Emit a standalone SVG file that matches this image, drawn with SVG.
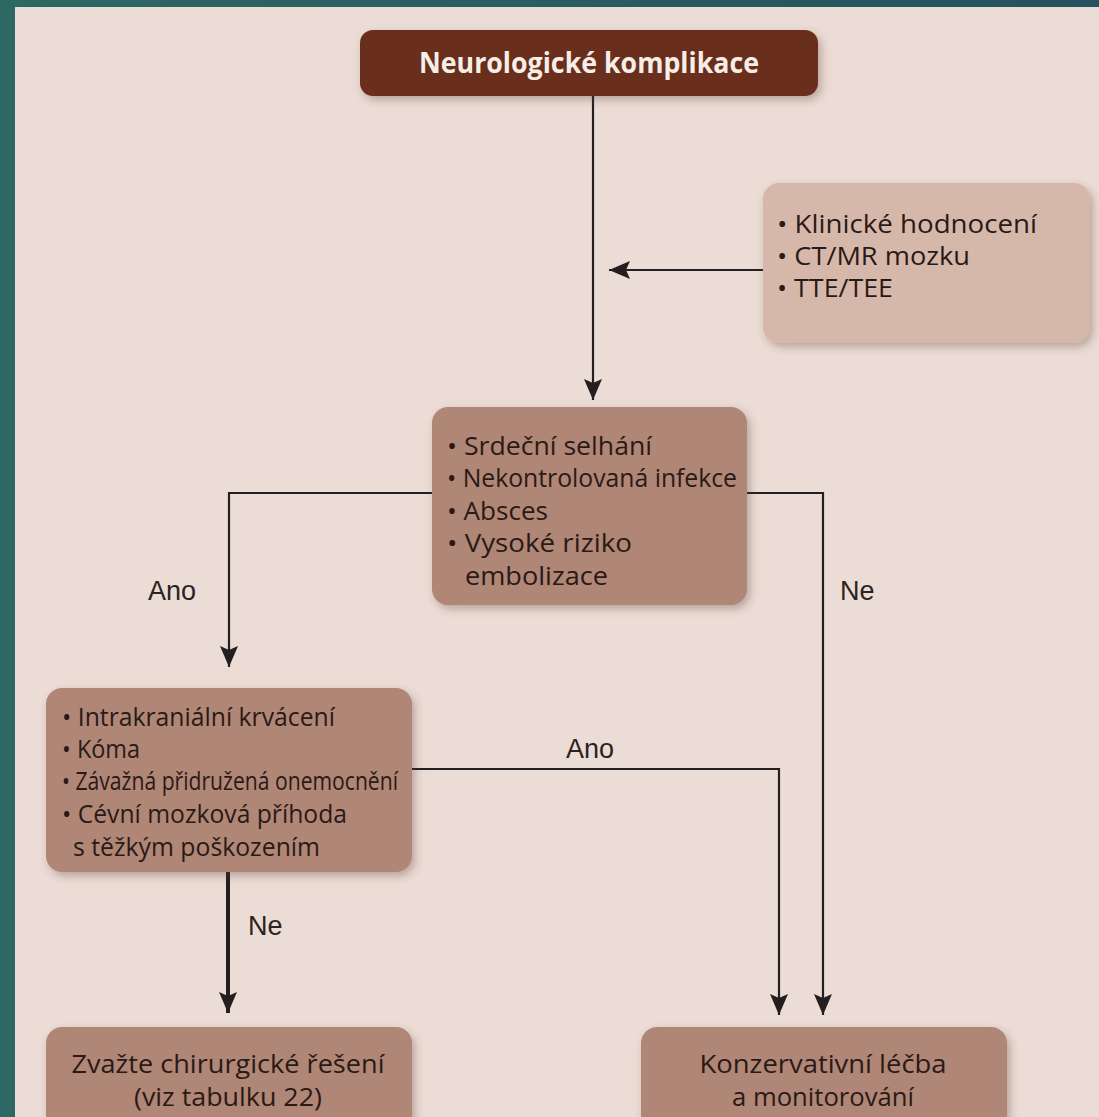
<svg xmlns="http://www.w3.org/2000/svg" width="1099" height="1117" viewBox="0 0 1099 1117">
<defs>
<linearGradient id="teal" x1="0" y1="0" x2="1" y2="0">
<stop offset="0" stop-color="#2d6864"/>
<stop offset="1" stop-color="#24525e"/>
</linearGradient>
<filter id="sh" x="-10%" y="-10%" width="125%" height="130%">
<feDropShadow dx="3" dy="4" stdDeviation="4" flood-color="#5a3a30" flood-opacity="0.35"/>
</filter>
<marker id="ah" viewBox="-22 -10 24 20" refX="0" refY="0" markerWidth="24" markerHeight="20" markerUnits="userSpaceOnUse" orient="auto">
<path d="M0,0 L-21,-9 L-17,0 L-21,9 Z" fill="#231f20"/>
</marker>
</defs>
<style>
.bx{filter:url(#sh);}
.t{font-family:"Open Sans","Noto Sans","DejaVu Sans",sans-serif;font-size:25px;fill:#2a1a15;}
.c{font-family:"Open Sans","Noto Sans","DejaVu Sans",sans-serif;font-size:25px;fill:#2a1a15;text-anchor:middle;}
.lb{font-family:"Liberation Sans",Arial,sans-serif;font-size:27px;fill:#2b2322;}
.ln{fill:none;stroke:#231f20;stroke-width:2.2;}
</style>
<rect x="0" y="0" width="1099" height="1117" fill="url(#teal)"/>
<rect x="15" y="7" width="1084" height="1110" fill="#ebdcd5"/>

<g id="connectors">
<path class="ln" d="M593,96 V400" marker-end="url(#ah)"/>
<path class="ln" d="M763,270 H609" marker-end="url(#ah)"/>
<path class="ln" d="M432,493 H229 V667" marker-end="url(#ah)"/>
<path class="ln" d="M747,493 H823 V1015" marker-end="url(#ah)"/>
<path class="ln" d="M412,769 H779 V1015" marker-end="url(#ah)"/>
<path class="ln" d="M228,872 V1013" style="stroke-width:4" marker-end="url(#ah)"/>
<text class="lb" x="148" y="600">Ano</text>
<text class="lb" x="840" y="600">Ne</text>
<text class="lb" x="566" y="758">Ano</text>
<text class="lb" x="248" y="935">Ne</text>
</g>

<g id="n1">
<rect class="bx" x="360" y="30" width="458" height="66" rx="13" fill="#6a2d1b"/>
<text x="589" y="73" text-anchor="middle" font-family="'Open Sans','Noto Sans',sans-serif" font-weight="bold" font-size="29" fill="#f7eee8" textLength="340" lengthAdjust="spacingAndGlyphs">Neurologické komplikace</text>
</g>

<g id="n2">
<rect class="bx" x="763" y="183" width="327" height="160" rx="16" fill="#d6b8ab"/>
<text class="t" x="777" y="233" textLength="260" lengthAdjust="spacingAndGlyphs">• Klinické hodnocení</text>
<text class="t" x="777" y="265" textLength="193" lengthAdjust="spacingAndGlyphs">• CT/MR mozku</text>
<text class="t" x="777" y="297" textLength="116" lengthAdjust="spacingAndGlyphs">• TTE/TEE</text>
</g>

<g id="n3">
<rect class="bx" x="432" y="407" width="315" height="198" rx="16" fill="#b08677"/>
<text class="t" x="447" y="455" textLength="205" lengthAdjust="spacingAndGlyphs">• Srdeční selhání</text>
<text class="t" x="447" y="487" textLength="290" lengthAdjust="spacingAndGlyphs">• Nekontrolovaná infekce</text>
<text class="t" x="447" y="520" textLength="101" lengthAdjust="spacingAndGlyphs">• Absces</text>
<text class="t" x="447" y="552" textLength="185" lengthAdjust="spacingAndGlyphs">• Vysoké riziko</text>
<text class="t" x="465" y="585" textLength="143" lengthAdjust="spacingAndGlyphs">embolizace</text>
</g>

<g id="n4">
<rect class="bx" x="46" y="688" width="366" height="184" rx="16" fill="#b08677"/>
<text class="t" x="62" y="726" textLength="273" lengthAdjust="spacingAndGlyphs">• Intrakraniální krvácení</text>
<text class="t" x="62" y="758" textLength="78" lengthAdjust="spacingAndGlyphs">• Kóma</text>
<text class="t" x="62" y="790" textLength="336" lengthAdjust="spacingAndGlyphs">• Závažná přidružená onemocnění</text>
<text class="t" x="62" y="823" textLength="285" lengthAdjust="spacingAndGlyphs">• Cévní mozková příhoda</text>
<text class="t" x="73" y="856" textLength="247" lengthAdjust="spacingAndGlyphs">s těžkým poškozením</text>
</g>

<g id="n5">
<rect class="bx" x="46" y="1027" width="366" height="110" rx="16" fill="#b08677"/>
<text class="c" x="228" y="1073" textLength="313" lengthAdjust="spacingAndGlyphs">Zvažte chirurgické řešení</text>
<text class="c" x="228" y="1106" textLength="188" lengthAdjust="spacingAndGlyphs">(viz tabulku 22)</text>
</g>

<g id="n6">
<rect class="bx" x="641" y="1027" width="366" height="110" rx="16" fill="#b08677"/>
<text class="c" x="823" y="1073" textLength="247" lengthAdjust="spacingAndGlyphs">Konzervativní léčba</text>
<text class="c" x="823" y="1106" textLength="182" lengthAdjust="spacingAndGlyphs">a monitorování</text>
</g>
</svg>
